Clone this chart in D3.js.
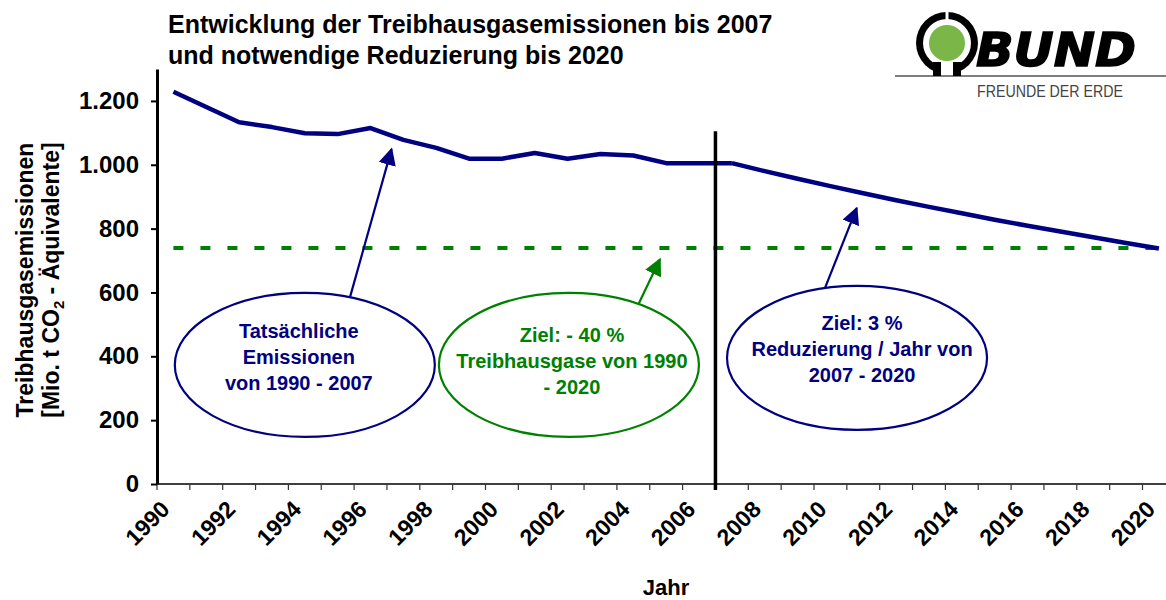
<!DOCTYPE html>
<html>
<head>
<meta charset="utf-8">
<script src="https://cdn.jsdelivr.net/npm/d3@7"></script>
<style>
  body { margin: 0; background: #fff; }
  svg { display: block; }
  text { font-family: "Liberation Sans", Arial, sans-serif; font-weight: bold; }
</style>
</head>
<body>
<svg id="chart" width="1166" height="600"></svg>
<script>
// categories
const years = d3.range(1990, 2021);
const labelYears = years.filter(d => d % 2 === 0);

// actual emissions 1990 - 2007 (Mio. t CO2-eq)
const actualYears = d3.range(1990, 2008);
const actualValues = [1229, 1181, 1133, 1118, 1099, 1096, 1115, 1078, 1053, 1019,
                      1019, 1037, 1019, 1034, 1029, 1005, 1005, 1005];

// required reduction path 2007 - 2020
const planYears = d3.range(2007, 2021);
const planValues = [1005, 980, 956, 933, 911, 889, 868, 848, 828, 809, 791, 773, 755, 738];

// -40 % target (constant over the whole period)
const targetYears = [1990, 2020];
const targetValue = 739;

const yTicks = [0, 200, 400, 600, 800, 1000, 1200];

const navy = "#000080", green = "#008000";

const svg = d3.select("#chart");

// scales
const x = d3.scaleBand().domain(years).range([157, 157 + 31 * 32.85]);
const y = d3.scaleLinear().domain([0, 1300]).range([484, 69]);
const bw = x.bandwidth();
// fractional year -> pixel (category centres)
const fx = yr => x(1990) + (yr - 1990 + 0.5) * bw;

const de = d3.formatLocale({ decimal: ",", thousands: ".", grouping: [3], currency: ["", " €"] });
const fmt = de.format(",d");

// title
const title = svg.append("text").attr("x", 168).attr("y", 33).style("font-size", "25px");
title.append("tspan").attr("x", 168).text("Entwicklung der Treibhausgasemissionen bis 2007");
title.append("tspan").attr("x", 168).attr("dy", 31).text("und notwendige Reduzierung bis 2020");

// target dashed line
svg.append("path")
  .datum(targetYears)
  .attr("d", d3.line().x(d => fx(d)).y(() => y(targetValue)))
  .attr("fill", "none")
  .attr("stroke", green)
  .attr("stroke-width", 4)
  .attr("stroke-dasharray", "10,17");

// emission lines
const line = d3.line().x(d => fx(d[0])).y(d => y(d[1]));
svg.append("path")
  .datum(d3.zip(actualYears, actualValues))
  .attr("d", line)
  .attr("fill", "none").attr("stroke", navy).attr("stroke-width", 4.5)
  .attr("stroke-linejoin", "round");
svg.append("path")
  .datum(d3.zip(planYears, planValues))
  .attr("d", line)
  .attr("fill", "none").attr("stroke", navy).attr("stroke-width", 4.5)
  .attr("stroke-linejoin", "round");

// x axis: line + tick marks at category boundaries
const xg = svg.append("g");
xg.append("line")
  .attr("x1", x.range()[0]).attr("x2", x.range()[1])
  .attr("y1", y(0)).attr("y2", y(0))
  .attr("stroke", "#000").attr("stroke-width", 1.5);
xg.selectAll(".xt").data(years).join("line")
  .attr("x1", d => x(d)).attr("x2", d => x(d))
  .attr("y1", y(0)).attr("y2", y(0) + 6)
  .attr("stroke", "#333").attr("stroke-width", 1.2);

const xAxis = d3.axisBottom(x).tickValues(labelYears).tickSize(0);
const xl = svg.append("g").attr("transform", `translate(0,${y(0)})`).call(xAxis);
xl.select(".domain").remove();
xl.selectAll("text")
  .attr("x", 0).attr("y", 0).attr("dy", "0.35em")
  .attr("text-anchor", "end")
  .attr("transform", "translate(-8,21) rotate(-45)")
  .style("font-size", "23px")
  .style("font-family", "'Liberation Sans', Arial, sans-serif")
  .attr("fill", "#000");

// y axis
const yAxis = d3.axisLeft(y).tickValues(yTicks).tickSize(6).tickSizeOuter(0).tickPadding(12).tickFormat(fmt);
const yg = svg.append("g").attr("transform", `translate(${x.range()[0]},0)`).call(yAxis);
yg.select(".domain").attr("stroke-width", 3);
yg.selectAll(".tick line").attr("stroke-width", 2);
yg.selectAll("text")
  .style("font-size", "24px")
  .style("font-family", "'Liberation Sans', Arial, sans-serif")
  .attr("fill", "#000");

// y axis title
svg.append("text")
  .attr("transform", "translate(33,280) rotate(-90)")
  .attr("text-anchor", "middle").style("font-size", "23px")
  .text("Treibhausgasemissionen");
const yt2 = svg.append("text")
  .attr("transform", "translate(59,280) rotate(-90)")
  .attr("text-anchor", "middle").style("font-size", "23px");
yt2.append("tspan").text("[Mio. t CO");
yt2.append("tspan").attr("dy", 5).style("font-size", "15px").text("2");
yt2.append("tspan").attr("dy", -5).text(" - Äquivalente]");

// x axis title
svg.append("text").attr("x", 666).attr("y", 595).attr("text-anchor", "middle")
  .style("font-size", "22px").text("Jahr");

// divider between history and projection
svg.append("line")
  .attr("x1", x(2007)).attr("x2", x(2007))
  .attr("y1", y(1105)).attr("y2", y(0) + 6)
  .attr("stroke", "#000").attr("stroke-width", 3.5);

// annotations (centre in data space: year / value)
const notes = [
  { cx: 1994.0, cv: 373, color: navy, dx: -6, base: -27,
    lines: ["Tatsächliche", "Emissionen", "von 1990 - 2007"],
    from: [1995.38, 587], to: [1996.64, 1049] },
  { cx: 2002.04, cv: 373, color: green, dx: 3, base: -23,
    lines: ["Ziel: - 40 %", "Treibhausgase von 1990", "- 2020"],
    from: [2004.17, 566], to: [2004.81, 704] },
  { cx: 2010.81, cv: 395, color: navy, dx: 5, base: -28,
    lines: ["Ziel: 3 %", "Reduzierung / Jahr von", "2007 - 2020"],
    from: [2009.83, 613], to: [2010.8, 864] }
];

const defs = svg.append("defs");
[["navy", navy], ["green", green]].forEach(([id, c]) => {
  defs.append("marker").attr("id", "arr-" + id)
    .attr("viewBox", "0 0 10 10").attr("refX", 9).attr("refY", 5)
    .attr("markerWidth", 8).attr("markerHeight", 8).attr("markerUnits", "strokeWidth")
    .attr("orient", "auto")
    .append("path").attr("d", "M0,0L10,5L0,10Z").attr("fill", c);
});

const ng = svg.selectAll(".note").data(notes).join("g").attr("class", "note");
ng.append("line")
  .attr("x1", d => fx(d.from[0])).attr("y1", d => y(d.from[1]))
  .attr("x2", d => fx(d.to[0])).attr("y2", d => y(d.to[1]))
  .attr("stroke", d => d.color).attr("stroke-width", 2.2)
  .attr("marker-end", d => d.color === navy ? "url(#arr-navy)" : "url(#arr-green)");
ng.append("ellipse")
  .attr("cx", d => fx(d.cx)).attr("cy", d => y(d.cv))
  .attr("rx", 130).attr("ry", 72)
  .attr("fill", "#fff").attr("stroke", d => d.color).attr("stroke-width", 2.2);
ng.each(function (d) {
  const t = d3.select(this).append("text")
    .attr("text-anchor", "middle")
    .attr("fill", d.color)
    .style("font-size", "20px");
  d.lines.forEach((s, i) => {
    t.append("tspan")
      .attr("x", fx(d.cx) + d.dx)
      .attr("y", y(d.cv) + d.base + i * 26)
      .text(s);
  });
});

// BUND logo
const logo = svg.append("g");
logo.append("circle").attr("cx", 947).attr("cy", 43).attr("r", 31).attr("fill", "#000");
logo.append("circle").attr("cx", 947).attr("cy", 43).attr("r", 24).attr("fill", "#fff");
logo.append("circle").attr("cx", 947).attr("cy", 43).attr("r", 18).attr("fill", "#7ab648");
logo.append("rect").attr("x", 945.5).attr("y", 10).attr("width", 3).attr("height", 15).attr("fill", "#fff");
logo.append("rect").attr("x", 933).attr("y", 62).attr("width", 28).attr("height", 14).attr("fill", "#000");
logo.append("rect").attr("x", 941).attr("y", 62).attr("width", 12).attr("height", 14).attr("fill", "#fff");
logo.append("text").attr("x", 976).attr("y", 66)
  .attr("textLength", 160).attr("lengthAdjust", "spacingAndGlyphs")
  .style("font-family", "'DejaVu Sans', sans-serif").style("font-style", "italic")
  .style("font-weight", "900")
  .style("font-size", "47px").attr("fill", "#000")
  .attr("stroke", "#000").attr("stroke-width", 1.5)
  .text("BUND");
logo.append("line").attr("x1", 895).attr("x2", 1166).attr("y1", 76).attr("y2", 76)
  .attr("stroke", "#000").attr("stroke-width", 1.2);
logo.append("text").attr("x", 977).attr("y", 97)
  .attr("textLength", 146).attr("lengthAdjust", "spacingAndGlyphs")
  .style("font-weight", "normal").style("font-size", "16px").attr("fill", "#444")
  .text("FREUNDE DER ERDE");
</script>
</body>
</html>
